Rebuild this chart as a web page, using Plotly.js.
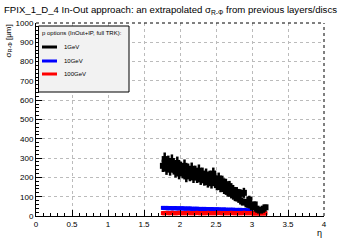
<!DOCTYPE html>
<html><head><meta charset="utf-8">
<script src="https://cdn.plot.ly/plotly-3.0.1.min.js"></script>
<style>html,body{margin:0;padding:0;background:#fff}#c{width:360px;height:240px}</style>
</head><body><div id="c"></div>
<script>
const eta = [1.7625,1.7875,1.8125,1.8375,1.8625,1.8875,1.9125,1.9375,1.9625,1.9875,2.0125,2.0375,2.0625,2.0875,2.1125,2.1375,2.1625,2.1875,2.2125,2.2375,2.2625,2.2875,2.3125,2.3375,2.3625,2.3875,2.4125,2.4375,2.4625,2.4875,2.5125,2.5375,2.5625,2.5875,2.6125,2.6375,2.6625,2.6875,2.7125,2.7375,2.7625,2.7875,2.8125,2.8375,2.8625,2.8875,2.9125,2.9375,2.9625,2.9875,3.0125,3.0375,3.0625,3.0875,3.1125,3.1375,3.1625,3.1875];
const sigma1GeV = [260,295,245,280,240,285,255,230,275,220,250,225,260,205,240,210,245,200,230,200,235,190,220,185,215,175,205,170,220,185,160,195,150,180,140,165,125,155,115,135,100,125,90,115,75,120,70,60,85,55,45,60,38,32,28,32,38,45];
const err1GeV = [32,34,32,33,31,34,32,31,33,30,32,30,33,30,32,30,32,29,31,29,32,29,31,28,31,28,30,28,31,29,27,30,27,29,26,28,25,27,24,26,23,25,22,24,21,26,19,18,20,16,14,15,13,12,11,12,13,14];
const sigma10GeV = [42,41,42,40,41,40,40,41,39,40,39,40,38,39,38,39,37,38,37,38,36,37,36,37,35,36,35,36,35,34,35,34,34,33,34,33,32,33,32,33,31,32,31,32,30,31,30,29,30,29];
const err10GeV = [10,10,10,10,10,10,10,10,9,9,9,9,9,9,9,9,9,9,9,9,9,9,9,9,8,8,8,8,8,8,8,8,8,8,8,8,8,8,8,8,8,8,8,8,8,8,8,8,8,8];
const sigma100GeV = [15,15,16,15,15,16,15,15,15,16,15,15,15,15,16,15,15,15,15,16,15,15,15,15,15,16,15,15,15,15,15,16,15,15,15,15,15,15,16,15,15,15,15,15,15,16,15,15,15,15,14,14,14,14,14,14,14,14];
const err100GeV = [11,11,11,11,11,11,11,11,11,11,11,11,11,11,11,11,11,11,11,11,11,11,11,11,11,11,11,11,11,11,11,11,11,11,11,11,11,11,11,11,11,11,11,11,11,11,11,11,11,11,11,11,11,11,11,11,11,11];
const binHalf = 0.0125;
const seriesNames = ["1GeV","10GeV","100GeV"];
const seriesColors = ["#000000","#0000ff","#ff0000"];
const legendHeader = "p options (InOut+IP, full TRK):";
const xTicks = [0,0.5,1,1.5,2,2.5,3,3.5,4];
const yTicks = [0,100,200,300,400,500,600,700,800,900,1000];

function trace(x, y, e, color, ms, th){
  return {x:x, y:y, type:'scatter', mode:'markers', showlegend:false, cliponaxis:true,
    marker:{symbol:'square', size:ms, color:color},
    error_y:{type:'data', array:e, color:color, thickness:th, width:0},
    error_x:{type:'constant', value:binHalf, color:color, thickness:th, width:0}};
}
const traces = [
  trace(eta.slice(0, sigma10GeV.length), sigma10GeV, err10GeV, seriesColors[1], 4, 2),
  trace(eta, sigma100GeV, err100GeV, seriesColors[2], 4, 2),
  trace(eta, sigma1GeV, err1GeV, seriesColors[0], 6, 2.5)
];

// pixel -> paper helpers
const L=36, R=324, T=23, B=216;
const px = v => (v-L)/(R-L);
const py = v => (B-v)/(B-T);

const shapes = [
  {type:'rect', xref:'paper', yref:'paper', x0:px(38.5), x1:px(129), y0:py(92), y1:py(26),
   line:{color:'#000', width:1}, fillcolor:'#f2f2f2', layer:'above'}
];
const annotations = [
  {xref:'paper', yref:'paper', x:px(40), y:py(33), xanchor:'left', yanchor:'middle', showarrow:false,
   text:legendHeader, font:{size:6, color:'#000'}},
  {xref:'paper', yref:'paper', x:1.0, y:py(226), xanchor:'right', yanchor:'top', showarrow:false,
   text:'η', font:{size:9, color:'#000'}},
  {xref:'paper', yref:'paper', x:px(8), y:1.0, xanchor:'center', yanchor:'top', showarrow:false, textangle:-90,
   text:'σ<sub>R-Φ</sub> [μm]', font:{size:8, color:'#000'}}
];
const rowsY = [47, 61, 74];
seriesNames.forEach((n,i)=>{
  shapes.push({type:'line', xref:'paper', yref:'paper', x0:px(42), x1:px(57), y0:py(rowsY[i]), y1:py(rowsY[i]),
    line:{color:seriesColors[i], width:3}, layer:'above'});
  annotations.push({xref:'paper', yref:'paper', x:px(62), y:py(rowsY[i]), xanchor:'left', yanchor:'middle',
    showarrow:false, text:n, font:{size:6, color:'#000'}});
});

const layout = {
  width:360, height:240,
  margin:{l:L, r:360-R, t:T, b:240-B, pad:0},
  paper_bgcolor:'#fff', plot_bgcolor:'#fff',
  font:{family:'Liberation Sans, Arial, sans-serif', color:'#000'},
  title:{text:'FPIX_1_D_4 In-Out approach: an extrapolated σ<sub>R-Φ</sub> from previous layers/discs',
    x:4/360, xanchor:'left', y:1-10/240, yanchor:'middle', font:{size:9.6, color:'#000'}},
  xaxis:{range:[0,4], tickvals:xTicks, ticktext:xTicks.map(String), ticks:'inside', ticklen:6, tickcolor:'#000',
    showgrid:true, gridcolor:'#bbb', griddash:'dot', gridwidth:1, zeroline:false,
    showline:true, linecolor:'#000', linewidth:1, mirror:false,
    minor:{dtick:0.1, ticks:'inside', ticklen:3, tickcolor:'#000', showgrid:false},
    tickfont:{size:8}},
  yaxis:{range:[0,1000], tickvals:yTicks, ticktext:yTicks.map(String), ticks:'inside', ticklen:6, tickcolor:'#000',
    showgrid:true, gridcolor:'#bbb', griddash:'dot', gridwidth:1, zeroline:false,
    showline:true, linecolor:'#000', linewidth:1,
    minor:{dtick:20, ticks:'inside', ticklen:3, tickcolor:'#000', showgrid:false},
    tickfont:{size:8}},
  shapes:shapes.concat([
    {type:'line', xref:'paper', yref:'paper', x0:0, x1:1, y0:1, y1:1, line:{color:'#000', width:1, dash:'dot'}},
    {type:'line', xref:'paper', yref:'paper', x0:1, x1:1, y0:0, y1:1, line:{color:'#000', width:1, dash:'dot'}}
  ]),
  annotations:annotations
};
Plotly.newPlot('c', traces, layout, {displayModeBar:false, staticPlot:true});
</script></body></html>
